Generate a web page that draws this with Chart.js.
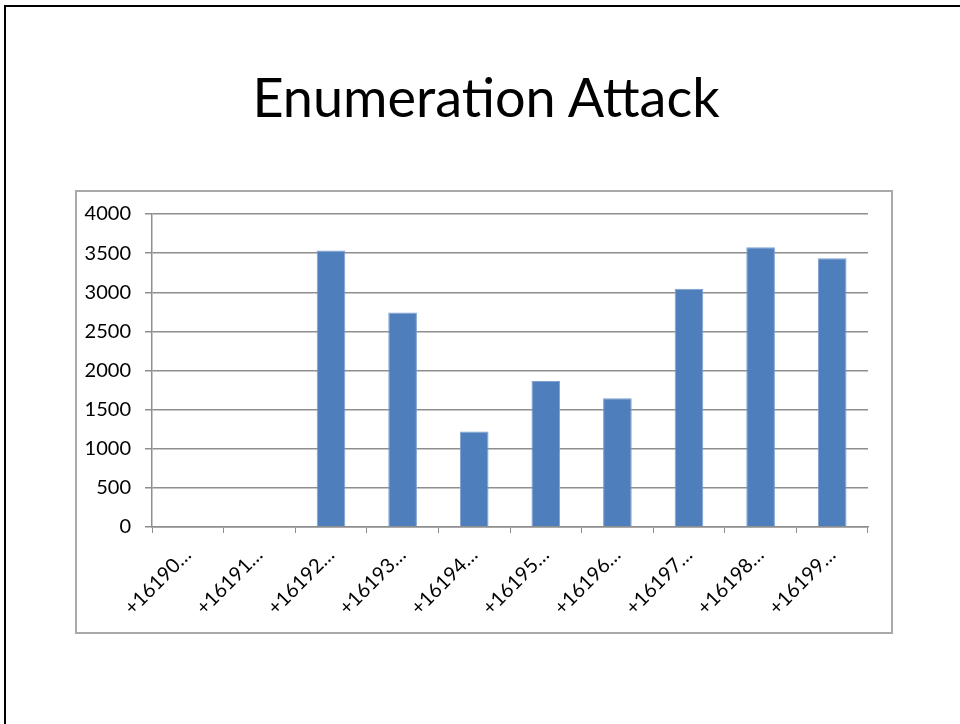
<!DOCTYPE html>
<html>
<head>
<meta charset="utf-8">
<script src="https://cdn.jsdelivr.net/npm/chart.js@4.4.1/dist/chart.umd.min.js"></script>
<style>
    html, body { margin: 0; padding: 0; background: #fff; }
    body { width: 960px; height: 724px; position: relative; overflow: hidden; }
    .slide-edge {
        position: absolute; left: 4px; top: 5px; width: 1000px; height: 800px;
        border-top: 2px solid #000; border-left: 2px solid #000;
    }
    .title {
        position: absolute; left: 0; width: 972px; top: 63px;
        text-align: center; font-family: Lato, sans-serif; font-size: 54px;
        line-height: 68px; color: #000;
    }
    .chart-box {
        position: absolute; left: 75px; top: 190px; width: 814px; height: 440px;
        border: 2px solid #a9a9a9;
    }
    #chart { position: absolute; left: 0; top: 0; }
</style>
</head>
<body>
<div class="slide-edge"></div>
<div class="title">Enumeration Attack</div>
<div class="chart-box"></div>
<canvas id="chart" width="960" height="724"></canvas>
<script>
// values
const categories = ['+16190…', '+16191…', '+16192…', '+16193…', '+16194…',
                    '+16195…', '+16196…', '+16197…', '+16198…', '+16199…'];
const attempts = [0, 0, 3535, 2740, 1220, 1865, 1645, 3045, 3575, 3435];
const yTicks = [0, 500, 1000, 1500, 2000, 2500, 3000, 3500, 4000];

document.addEventListener('DOMContentLoaded', function() {
    const gridGray = '#8e8e8e';
    const tickFont = { family: 'Lato', size: 20 };

    const ctx = document.getElementById('chart').getContext('2d');
    new Chart(ctx, {
        type: 'bar',
        data: {
            labels: categories,
            datasets: [{
                data: attempts,
                backgroundColor: '#4f7ebd',
                borderColor: '#7d9fd0',
                borderWidth: 1,
                barPercentage: 0.4,
                categoryPercentage: 1.0
            }]
        },
        options: {
            responsive: false,
            animation: false,
            layout: { padding: { left: 60, right: 92, top: 214, bottom: 97 } },
            plugins: {
                legend: { display: false },
                tooltip: { enabled: false }
            },
            scales: {
                x: {
                    grid: { drawOnChartArea: false, drawTicks: true, tickLength: 6, color: gridGray },
                    border: { color: gridGray, width: 1.5 },
                    ticks: {
                        color: '#000', font: tickFont,
                        minRotation: 45, maxRotation: 45, padding: 10
                    },
                    afterFit: function(scale) { scale.height = 100; }
                },
                y: {
                    min: 0,
                    max: 4000,
                    afterBuildTicks: function(scale) {
                        scale.ticks = yTicks.map(v => ({ value: v }));
                    },
                    grid: { color: gridGray, lineWidth: 1.5, tickLength: 7 },
                    border: { color: gridGray, width: 1.5 },
                    ticks: {
                        color: '#000', font: tickFont, padding: 14,
                        callback: function(value) { return String(value); }
                    },
                    afterFit: function(scale) { scale.width = 92; }
                }
            }
        }
    });
});
</script>
</body>
</html>
